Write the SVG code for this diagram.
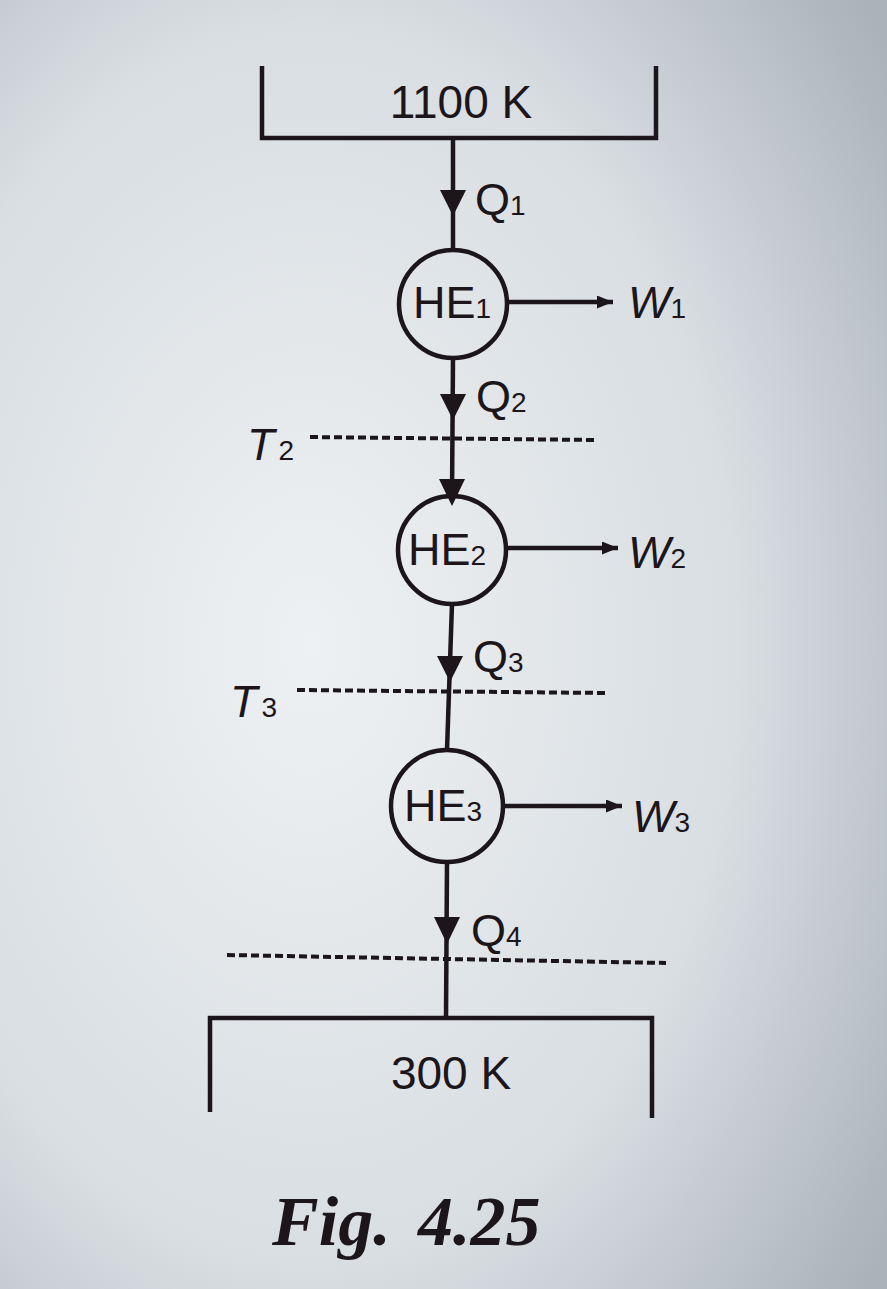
<svg xmlns="http://www.w3.org/2000/svg" width="887" height="1289" viewBox="0 0 887 1289">
<defs>
<radialGradient id="bg" cx="0.35" cy="0.5" r="0.8">
<stop offset="0" stop-color="#eef1f3"/>
<stop offset="0.6" stop-color="#d9dee2"/>
<stop offset="1" stop-color="#aab2ba"/>
</radialGradient>
<marker id="ah" viewBox="0 0 16 13" refX="16" refY="6.5" markerWidth="16" markerHeight="13" orient="auto" markerUnits="userSpaceOnUse"><path d="M0,0 L16,6.5 L0,13 Z" fill="#1c1519"/></marker>
</defs>
<style>
.ink{stroke:#1c1519;fill:none;stroke-width:4.5}
.dash{stroke:#1c1519;fill:none;stroke-width:4;stroke-dasharray:8,4}
.t{font-family:"Liberation Sans",Arial,sans-serif;fill:#1c1519}
.big{font-size:46px}
.lab{font-size:45px}
.sub{font-size:28px}
.it{font-style:italic}
.he{stroke:#1c1519;fill:none;stroke-width:4.5}
.tip{fill:#1c1519}
.fig{font-family:"Liberation Serif","Times New Roman",serif;font-weight:bold;font-style:italic;font-size:70px;fill:#1c1519}
</style>
<rect width="887" height="1289" fill="url(#bg)"/>

<g id="hot">
<path class="ink" d="M262,66 V138 H656 V66"/>
<text class="t big" x="461" y="118" text-anchor="middle">1100 K</text>
</g>

<g id="cold">
<path class="ink" d="M210,1112 V1018 H652 V1118"/>
<text class="t big" x="451" y="1089" text-anchor="middle">300 K</text>
</g>

<g id="HE1">
<circle class="he" cx="453" cy="304" r="54"/>
<text class="t lab" x="413" y="318">HE<tspan class="sub">1</tspan></text>
</g>
<g id="HE2">
<circle class="he" cx="452" cy="550" r="54"/>
<text class="t lab" x="408" y="565">HE<tspan class="sub">2</tspan></text>
</g>
<g id="HE3">
<circle class="he" cx="447" cy="806" r="56"/>
<text class="t lab" x="404" y="821">HE<tspan class="sub">3</tspan></text>
</g>

<g id="connectors">
<line class="ink" x1="453" y1="138" x2="453" y2="250"/>
<path class="tip" d="M440,190 L466,190 L453,216 Z"/>
<line class="ink" x1="453" y1="358" x2="452" y2="496"/>
<path class="tip" d="M440,394 L466,394 L453,420 Z"/>
<path class="tip" d="M439,479 L465,479 L452,506 Z"/>
<line class="ink" x1="452" y1="604" x2="447" y2="750"/>
<path class="tip" d="M437,656 L463,656 L450,682 Z"/>
<line class="ink" x1="447" y1="862" x2="446" y2="1018"/>
<path class="tip" d="M434,917 L460,917 L447,944 Z"/>
<line class="ink" x1="507" y1="302" x2="613" y2="302" marker-end="url(#ah)"/>
<line class="ink" x1="506" y1="548" x2="618" y2="548" marker-end="url(#ah)"/>
<line class="ink" x1="503" y1="806" x2="622" y2="806" marker-end="url(#ah)"/>
<line class="dash" x1="310" y1="437" x2="596" y2="440"/>
<line class="dash" x1="297" y1="690" x2="606" y2="693"/>
<line class="dash" x1="227" y1="955" x2="666" y2="963"/>
</g>

<g id="labels">
<text class="t lab" x="475" y="215">Q<tspan class="sub">1</tspan></text>
<text class="t lab" x="476" y="412">Q<tspan class="sub">2</tspan></text>
<text class="t lab" x="473" y="672">Q<tspan class="sub">3</tspan></text>
<text class="t lab" x="471" y="946">Q<tspan class="sub">4</tspan></text>
<text class="t lab it" x="628" y="318">W<tspan class="sub" font-style="normal">1</tspan></text>
<text class="t lab it" x="628" y="568">W<tspan class="sub" font-style="normal">2</tspan></text>
<text class="t lab it" x="632" y="832">W<tspan class="sub" font-style="normal">3</tspan></text>
<text class="t lab it" x="247" y="460">T<tspan class="sub" font-style="normal" dx="4">2</tspan></text>
<text class="t lab it" x="230" y="717">T<tspan class="sub" font-style="normal" dx="4">3</tspan></text>
</g>

<text class="fig" x="272" y="1245">Fig.<tspan x="418">4.25</tspan></text>
</svg>
